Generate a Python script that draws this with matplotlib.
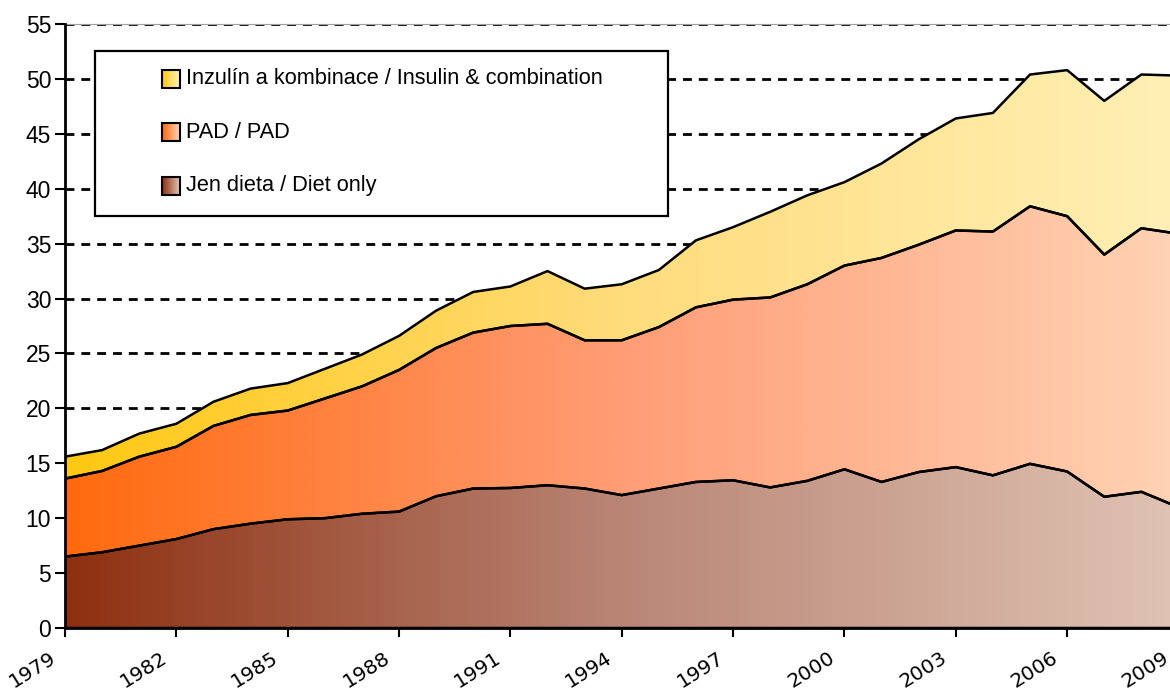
import numpy as np
import matplotlib
matplotlib.use('Agg')
import matplotlib.pyplot as plt
from matplotlib import font_manager
from matplotlib.colors import LinearSegmentedColormap
from matplotlib.patches import Rectangle
from matplotlib.transforms import ScaledTranslation

years = list(range(1979, 2010))
diet_only = [6.5, 6.9, 7.5, 8.1, 9.0, 9.5, 9.9, 10.0, 10.4, 10.6, 12.0, 12.7, 12.75, 13.0, 12.7, 12.1,
             12.7, 13.3, 13.45, 12.8, 13.4, 14.45, 13.3, 14.2, 14.65, 13.9, 14.95, 14.25, 11.95, 12.4, 11.0]
pad = [7.1, 7.4, 8.1, 8.4, 9.4, 9.9, 9.9, 10.9, 11.6, 12.9, 13.5, 14.2, 14.75, 14.7, 13.5, 14.1,
       14.7, 15.9, 16.45, 17.3, 17.9, 18.55, 20.4, 20.7, 21.55, 22.2, 23.45, 23.25, 22.05, 24.0, 24.9]
insulin = [2.0, 1.9, 2.1, 2.1, 2.2, 2.4, 2.5, 2.7, 2.9, 3.1, 3.4, 3.7, 3.6, 4.8, 4.7, 5.1,
           5.2, 6.1, 6.6, 7.8, 8.1, 7.6, 8.6, 9.6, 10.2, 10.8, 12.0, 13.3, 14.0, 14.0, 14.4]
labels = ['Jen dieta / Diet only', 'PAD / PAD', 'Inzulín a kombinace / Insulin & combination']
gradients = [['#8e3010', '#b98676', '#e0c3b3'],
             ['#ff6a0e', '#ff9d76', '#ffd3b4'],
             ['#ffc812', '#ffdc7c', '#fff0b6']]
y_ticks = list(range(0, 56, 5))
x_ticks = list(range(1979, 2010, 3))

names = {f.name for f in font_manager.fontManager.ttflist}
if 'Liberation Sans Narrow' in names:
    legend_font, legend_size = 'Liberation Sans Narrow', 18
else:
    legend_font, legend_size = 'Liberation Sans', 15.7

W, H = 1170, 696
fig = plt.figure(figsize=(W / 100, H / 100), dpi=100)
ax = fig.add_axes([65 / W, 68 / H, 1113.5 / W, 604 / H])

# stacked areas, each filled with a left-to-right gradient
grad = np.linspace(0, 1, 600).reshape(1, -1)
bottom = np.zeros(len(years))
for vals, stops in zip([diet_only, pad, insulin], gradients):
    top = bottom + np.array(vals)
    poly = ax.fill_between(years, bottom, top, facecolor='none', edgecolor='black',
                           linewidth=1.8, zorder=3)
    cmap = LinearSegmentedColormap.from_list('g', stops)
    im = ax.imshow(grad, extent=[years[0], years[-1], 0, 55], aspect='auto', cmap=cmap,
                   origin='lower', zorder=2, interpolation='bilinear')
    im.set_clip_path(poly.get_paths()[0], transform=ax.transData)
    bottom = top

ax.set_xlim(years[0], years[-1])
ax.set_ylim(0, 55)
ax.set_yticks(y_ticks)
ax.set_xticks(x_ticks)
ax.yaxis.grid(True, color='black', linewidth=2, linestyle=(0, (3.2, 2.5)))
ax.set_axisbelow(True)

for s in ['left', 'bottom']:
    ax.spines[s].set_linewidth(2)
    ax.spines[s].set_zorder(4)
ax.spines['top'].set_color('#a0a0a0')
ax.spines['top'].set_linewidth(0.8)
ax.spines['right'].set_visible(False)

ax.tick_params(axis='y', direction='out', length=7, width=1.5, pad=3, labelsize=16.5)
ax.tick_params(axis='x', direction='out', length=6.5, width=1.5, pad=8, labelsize=14.5)
for lab in ax.get_yticklabels():
    lab.set_family('Liberation Sans')
for lab in ax.get_xticklabels():
    lab.set_family('DejaVu Sans')
    lab.set_rotation(32)
    lab.set_ha('right')
    lab.set_va('top')
    lab.set_transform(lab.get_transform() + ScaledTranslation(-0.06, 0, fig.dpi_scale_trans))

# legend box drawn by hand in figure pixels
def fx(px):
    return px / W

def fy(py):
    return 1 - py / H

fig.patches.append(Rectangle((fx(95), fy(216)), fx(668) - fx(95), fy(51) - fy(216),
                             transform=fig.transFigure, facecolor='white', edgecolor='black',
                             linewidth=1.6, zorder=5))
entry_y = [186, 132, 79]
sw = 18
for yc, label, stops in zip(entry_y, labels, gradients):
    cmap = LinearSegmentedColormap.from_list('g', [stops[0], stops[-1]])
    for i in range(sw):
        fig.patches.append(Rectangle((fx(162 + i), fy(yc + sw / 2)), 1.05 / W, sw / H,
                                     transform=fig.transFigure, facecolor=cmap(i / (sw - 1)),
                                     edgecolor='none', zorder=6))
    fig.patches.append(Rectangle((fx(162), fy(yc + sw / 2)), sw / W, sw / H,
                                 transform=fig.transFigure, facecolor='none', edgecolor='black',
                                 linewidth=1.5, zorder=7))
    fig.text(fx(186), fy(yc), label, ha='left', va='center', fontsize=legend_size,
             family=[legend_font, 'DejaVu Sans'], zorder=8)

fig.savefig('out.png', dpi=100)
